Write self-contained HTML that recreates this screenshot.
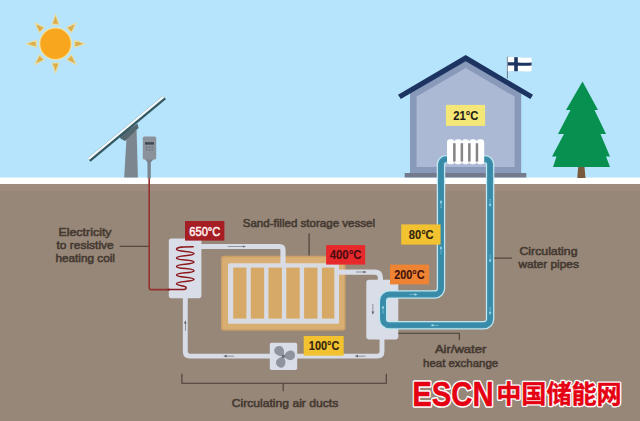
<!DOCTYPE html>
<html>
<head>
<meta charset="utf-8">
<title>Sand battery diagram</title>
<style>
  html, body { margin: 0; padding: 0; background: #978778; }
  body { width: 640px; height: 421px; overflow: hidden; font-family: "Liberation Sans", sans-serif; }
  svg { display: block; }
  text { font-family: "Liberation Sans", sans-serif; }
  .lbl { font-weight: normal; font-size: 11.5px; fill: #453a32; stroke: #453a32; stroke-width: 0.58px; }
  .tmp { font-weight: bold; font-size: 11.9px; stroke-width: 0.12px; }
  .logo-lat { font-family: "Liberation Sans", sans-serif; font-weight: bold; font-size: 35.6px; }
  .logo-cjk { font-family: "Liberation Sans", "Noto Sans CJK SC", sans-serif; font-weight: bold; font-size: 25.1px; }
</style>
</head>
<body>
<svg width="640" height="421" viewBox="0 0 640 421">
  <defs>
    <path id="wp" d="M449,159.3 H446 A5,5 0 0 0 441,164.3 V288.3 A6.2,6.2 0 0 1 434.8,294.5 H389.2 A6.2,6.2 0 0 0 383,300.7 V319.1 A6.2,6.2 0 0 0 389.2,325.3 H483.9 A6.2,6.2 0 0 0 490.1,319.1 V164.3 A5,5 0 0 0 485.1,159.3 H482"/>
    <!-- small arrow pointing right, tip at (0,0), tail to the left -->
    <g id="arr">
      <rect x="-10.5" y="-0.3" width="8.5" height="0.6"/>
      <polygon points="0.2,0 -3,-1.35 -3,1.35"/>
    </g>
    <g id="warr">
      <rect x="-8" y="-0.35" width="1.2" height="0.7"/><rect x="-6.2" y="-0.35" width="1.2" height="0.7"/><rect x="-4.4" y="-0.35" width="1.6" height="0.7"/>
      <polygon points="0,0 -2.8,-1.3 -2.8,1.3"/>
    </g>
  </defs>

  <!-- ===== SKY / SNOW / GROUND ===== -->
  <g id="bg">
    <rect x="0" y="0" width="640" height="178" fill="#b6e4fc"/>
    <rect x="0" y="177.5" width="640" height="7" fill="#ffffff"/>
    <rect x="0" y="177" width="640" height="0.9" fill="#d6effb"/>
    <rect x="0" y="184.2" width="640" height="237" fill="#978778"/>
    <rect x="0" y="184.2" width="640" height="6.8" fill="#a08b7f"/>
  </g>

  <!-- ===== SUN ===== -->
  <g id="sun" transform="translate(55.5,43.7)">
    <g fill="#d9ae4b" stroke="#eadda4" stroke-width="1.1" stroke-linejoin="round">
      <path id="ray" d="M-3.5,-19.3 L0,-29.3 L3.5,-19.3 Z"/>
      <use href="#ray" transform="rotate(45)"/>
      <use href="#ray" transform="rotate(90)"/>
      <use href="#ray" transform="rotate(135)"/>
      <use href="#ray" transform="rotate(180)"/>
      <use href="#ray" transform="rotate(225)"/>
      <use href="#ray" transform="rotate(270)"/>
      <use href="#ray" transform="rotate(315)"/>
    </g>
    <circle r="16.5" fill="#f0e2a2"/>
    <circle r="15.2" fill="#f8a61e"/>
  </g>

  <!-- ===== SOLAR PANEL ===== -->
  <g id="solar">
    <polygon points="124.2,177.5 137.9,177.5 136.6,130 126.8,133" fill="#7c868f"/>
    <polygon points="119.3,136.2 137.4,123.6 138.6,128 135.5,130.8 125,141 120.8,138.8" fill="#54676f"/>
    <polygon points="87.6,158.2 163,95.8 165.95,99.35 90.55,161.75" fill="#345963"/>
    <polygon points="87.6,158.2 163,95.8 164.45,97.55 89.05,159.95" fill="#f4f9fc"/>
  </g>

  <!-- ===== METER BOX ===== -->
  <g id="meter">
    <rect x="147.5" y="160" width="3.3" height="18.4" fill="#7a828d"/>
    <polygon points="145,159 153.6,159 150.8,162.5 147.5,162.5" fill="#7a828d"/>
    <rect x="142.8" y="136.6" width="13.4" height="23" rx="1.6" fill="#8b929a"/>
    <rect x="145" y="142.2" width="9" height="2.4" fill="#3f4852"/>
    <g fill="#6a727c">
      <rect x="146" y="146.6" width="1.6" height="1.3"/><rect x="148.8" y="146.6" width="1.6" height="1.3"/><rect x="151.6" y="146.6" width="1.6" height="1.3"/>
      <rect x="146" y="149.2" width="1.6" height="1.3"/><rect x="148.8" y="149.2" width="1.6" height="1.3"/><rect x="151.6" y="149.2" width="1.6" height="1.3"/>
    </g>
  </g>

  <!-- ===== HOUSE ===== -->
  <g id="house">
    <polygon points="410,173 410,93 465.7,60 521.2,93 521.2,173" fill="#8999ba"/>
    <polygon points="416.6,167 416.6,96.6 465.7,68 514.6,96.6 514.6,167" fill="#abb9d5"/>
    <rect x="404.7" y="173" width="121.6" height="4.5" fill="#727a8b"/>
    <path d="M398,94.7 L465.7,55 L533,94.7 L530.4,99 L465.7,61.2 L400.8,99 Z" fill="#1d3462"/>
    <rect x="506.9" y="56.7" width="1" height="22" fill="#6f7a88"/>
    <path d="M507.8,57.3 C513,56.6 520,58.2 531.6,57.4 V71.2 C522,72 514,70.6 507.8,71.3 Z" fill="#ffffff"/>
    <path d="M507.8,62.3 C514,61.8 522,63.2 531.6,62.5 V65.6 C522,66.3 514,65 507.8,65.5 Z" fill="#1d3462"/>
    <rect x="514.2" y="57.2" width="3.6" height="14" fill="#1d3462"/>
    <rect x="445.9" y="104.9" width="39.2" height="21" fill="#f4e677"/>
    <text class="tmp" x="465.8" y="119.8" text-anchor="middle" fill="#1f1d16" stroke="#1f1d16" textLength="25" lengthAdjust="spacingAndGlyphs">21°C</text>
  </g>

  <!-- ===== TREE ===== -->
  <g id="tree">
    <polygon points="578.2,166 584.4,166 585.5,178 577.3,178" fill="#79593c"/>
    <polygon fill="#07904f" points="582.5,81.5 598,110 594.5,110 606,134 600.5,134 610,156.5 606,156.5 610,167 553,167 556.5,156.5 552,156.5 564,134 558,134 570.5,110 566,110"/>
  </g>

  <!-- ===== SAND VESSEL ===== -->
  <g id="vessel">
    <rect x="221" y="255.8" width="124.6" height="74.9" rx="3" fill="#cb9f66"/>
    <rect x="222.4" y="257.2" width="121.8" height="72.1" rx="2" fill="#d9ae72"/>
    <rect x="228" y="263.2" width="111" height="60.5" rx="1.5" fill="#d9dbe2"/>
    <g fill="#d7a966">
      <rect x="233.2" y="267.6" width="13.2" height="51"/>
      <rect x="250.8" y="267.6" width="13.3" height="51"/>
      <rect x="268.5" y="267.6" width="13.4" height="51"/>
      <rect x="286.3" y="267.6" width="13.4" height="51"/>
      <rect x="304.1" y="267.6" width="13.4" height="51"/>
      <rect x="321.9" y="267.6" width="12.4" height="51"/>
    </g>
  </g>

  <!-- ===== AIR DUCTS ===== -->
  <g id="ducts" fill="none" stroke="#d8dce6" stroke-width="5.2" stroke-linejoin="round">
    <path d="M200,246.5 H279.4 Q283,246.5 283,250.1 V265"/>
    <path d="M337,272.1 H374.6 Q380.4,272.1 380.4,277.9 V282"/>
    <path d="M382,338 V351.6 Q382,356.1 377.5,356.1 H189.8 Q185.3,356.1 185.3,351.6 V297" stroke-width="4.9"/>
  </g>

  <!-- heater box + coil + wire -->
  <g id="heater">
    <rect x="168.8" y="238.4" width="32.6" height="59.8" rx="2.6" fill="#d9dde7"/>
    <path d="M149.2,178.2 V288 Q149.2,289.6 150.8,289.6 H170" fill="none" stroke="#93302f" stroke-width="1.6" stroke-linejoin="round"/>
    <path d="M168,289.6 H182.3 C185.6,289.6 186.8,288.4 185.8,287 C184.4,285 176.5,286.3 176.5,283.6 C176.5,280.9 194.0,282.0 194.0,279.3 C194.0,276.6 176.5,277.7 176.5,275.0 C176.5,272.3 194.0,273.4 194.0,270.7 C194.0,268.0 176.5,269.1 176.5,266.4 C176.5,263.7 194.0,264.8 194.0,262.1 C194.0,259.4 176.5,260.6 176.5,257.9 C176.5,255.2 194.0,256.3 194.0,253.6 C194.0,250.9 176.5,252.0 176.5,249.3 C176.5,246.7 184.0,246.7 193.2,246.7" fill="none" stroke="#8c171c" stroke-width="1.5" stroke-linecap="round" stroke-linejoin="round"/>
    <rect x="185" y="221" width="39.4" height="19.6" fill="#a51e24"/>
    <text class="tmp" x="204.8" y="235.6" text-anchor="middle" fill="#fff1f0" stroke="#fff1f0" style="font-weight:normal;font-size:12px;stroke-width:0.5px" textLength="31" lengthAdjust="spacingAndGlyphs">650°C</text>
  </g>

  <!-- heat exchanger -->
  <g id="exchanger">
    <rect x="366.3" y="279.8" width="32" height="59.6" rx="2.8" fill="#d9dde7"/>
  </g>

  <!-- ===== WATER PIPES ===== -->
  <g id="water" fill="none" stroke-linejoin="round">
    <use href="#wp" stroke="#c0e7f1" stroke-width="8.5"/>
    <use href="#wp" stroke="#3f90ad" stroke-width="6"/>
    <use href="#wp" stroke="#378aa8" stroke-width="3.4"/>
  </g>

  <!-- radiator -->
  <g id="radiator">
    <g fill="#ffffff">
      <rect x="447" y="139.3" width="7.6" height="25" rx="3.2"/>
      <rect x="454.4" y="139.3" width="7.6" height="25" rx="3.2"/>
      <rect x="461.8" y="139.3" width="7.6" height="25" rx="3.2"/>
      <rect x="469.2" y="139.3" width="7.6" height="25" rx="3.2"/>
      <rect x="476.6" y="139.3" width="7.6" height="25" rx="3.2"/>
      <rect x="449" y="142" width="33" height="19.6"/>
    </g>
    <g fill="#848486">
      <rect x="453.1" y="143.2" width="2.5" height="18.4"/>
      <rect x="460.6" y="143.2" width="2.5" height="18.4"/>
      <rect x="468.1" y="143.2" width="2.5" height="18.4"/>
      <rect x="475.7" y="143.2" width="2.5" height="18.4"/>
    </g>
  </g>

  <!-- fan -->
  <g id="fan">
    <rect x="269.8" y="342.7" width="27.4" height="27.3" rx="1.8" fill="#d9dde7"/>
    <g transform="translate(283.4,356.3)" fill="#8f949c">
      <path id="bl" d="M0,-0.6 C-4,-2.2 -6.2,-7.6 -3.4,-10.6 C-0.6,-13.2 5.2,-11.2 4.8,-6.6 C4.5,-3.8 2.4,-1.6 0,-0.6 Z" transform="rotate(-38)"/>
      <use href="#bl" transform="rotate(120)"/>
      <use href="#bl" transform="rotate(240)"/>
      <circle r="1.7" fill="#6c7179"/>
    </g>
  </g>

  <!-- ===== FLOW ARROWS ===== -->
  <g id="airarrows" fill="#38342f" opacity="0.72">
    <g transform="translate(245.8,246.5)"><rect x="-18" y="-0.28" width="16" height="0.56"/><polygon points="0,0 -2.8,-1.1 -2.8,1.1"/></g>
    <use href="#arr" transform="translate(366.5,272)"/>
    <use href="#arr" transform="translate(372.9,314.5) rotate(90)"/>
    <use href="#arr" transform="translate(355,356.1) rotate(180)"/>
    <use href="#arr" transform="translate(223.6,356.1) rotate(180)"/>
    <use href="#arr" transform="translate(185.3,320.4) rotate(-90)"/>
  </g>
  <g id="waterarrows" fill="#a8e2f0">
    <use href="#warr" transform="translate(441,246) rotate(-90)"/>
    <use href="#warr" transform="translate(417.5,294.5)"/>
    <use href="#warr" transform="translate(383,305.5) rotate(-90)"/>
    <use href="#warr" transform="translate(430.5,325.3) rotate(180)"/>
    <use href="#warr" transform="translate(490.1,262.5) rotate(90)"/>
    <use href="#warr" transform="translate(490.1,315) rotate(90)"/>
    <use href="#warr" transform="translate(441,200) rotate(-90)"/>
    <use href="#warr" transform="translate(490.1,207) rotate(90)"/>
  </g>

  <!-- ===== TEMPERATURE LABELS ===== -->
  <g id="temps">
    <rect x="326.1" y="245.1" width="39.1" height="19.5" fill="#e8292c"/>
    <text class="tmp" x="345.6" y="259.3" text-anchor="middle" fill="#4a0d10" stroke="#4a0d10" textLength="31.8" lengthAdjust="spacingAndGlyphs">400°C</text>
    <rect x="390" y="264.6" width="39.2" height="19.8" fill="#ee8433"/>
    <text class="tmp" x="409.4" y="279" text-anchor="middle" fill="#45120c" stroke="#45120c" textLength="30.5" lengthAdjust="spacingAndGlyphs">200°C</text>
    <rect x="401.2" y="224.4" width="39.4" height="20.2" fill="#f2c230"/>
    <text class="tmp" x="421.2" y="238.8" text-anchor="middle" fill="#33250f" stroke="#33250f" textLength="24.9" lengthAdjust="spacingAndGlyphs">80°C</text>
    <rect x="303.7" y="336" width="40" height="19.7" fill="#f2c230"/>
    <text class="tmp" x="324.1" y="350.4" text-anchor="middle" fill="#33250f" stroke="#33250f" textLength="30.5" lengthAdjust="spacingAndGlyphs">100°C</text>
  </g>

  <!-- ===== LABEL LINES ===== -->
  <g id="lines" fill="none" stroke="#4a3d35" stroke-width="1.1">
    <path d="M119.7,246.3 H148.6"/>
    <path d="M309.1,233.6 V255.6"/>
    <path d="M494.2,258.1 H512"/>
    <path d="M398.3,333.2 H459.3 V340.3"/>
    <path d="M181.9,373.8 V383.2 H386.3 V373.8"/>
    <path d="M283.2,383.2 V391.2"/>
  </g>

  <!-- ===== TEXT LABELS ===== -->
  <g id="labels">
    <text class="lbl" x="85" y="236.1" text-anchor="middle" textLength="53.2" lengthAdjust="spacingAndGlyphs">Electricity</text>
    <text class="lbl" x="85.1" y="249.4" text-anchor="middle" textLength="57.2" lengthAdjust="spacingAndGlyphs">to resistive</text>
    <text class="lbl" x="85.2" y="262.4" text-anchor="middle" textLength="59.6" lengthAdjust="spacingAndGlyphs">heating coil</text>
    <text class="lbl" x="308.9" y="226.6" text-anchor="middle" textLength="132.4" lengthAdjust="spacingAndGlyphs">Sand-filled storage vessel</text>
    <text class="lbl" x="548.5" y="255.3" text-anchor="middle" textLength="58.1" lengthAdjust="spacingAndGlyphs">Circulating</text>
    <text class="lbl" x="548.6" y="268.4" text-anchor="middle" textLength="60.4" lengthAdjust="spacingAndGlyphs">water pipes</text>
    <text class="lbl" x="460.6" y="353.1" text-anchor="middle" textLength="51.4" lengthAdjust="spacingAndGlyphs">Air/water</text>
    <text class="lbl" x="460.6" y="366.6" text-anchor="middle" textLength="75" lengthAdjust="spacingAndGlyphs">heat exchange</text>
    <text class="lbl" x="285" y="407.3" text-anchor="middle" textLength="106.4" lengthAdjust="spacingAndGlyphs">Circulating air ducts</text>
  </g>

  <!-- ===== LOGO ===== -->
  <g id="logo">
    <!--LOGO-START-->
    <g fill="#ffffff" stroke="#ffffff" stroke-linejoin="round">
      <text class="logo-lat" x="412.2" y="405.9" stroke-width="3.6" textLength="81.4" lengthAdjust="spacingAndGlyphs">ESCN</text>
      <text class="logo-cjk" x="496.2" y="402.85" stroke-width="3.1" textLength="125.5" lengthAdjust="spacingAndGlyphs">中国储能网</text>
    </g>
    <g fill="#e50012" stroke="#e50012" stroke-linejoin="round">
      <text class="logo-lat" x="412.2" y="405.9" stroke-width="0.5" textLength="81.4" lengthAdjust="spacingAndGlyphs">ESCN</text>
      <text class="logo-cjk" x="496.2" y="402.85" stroke-width="0.4" textLength="125.5" lengthAdjust="spacingAndGlyphs">中国储能网</text>
    </g>
    <!--LOGO-END-->
  </g>
</svg>
</body>
</html>
